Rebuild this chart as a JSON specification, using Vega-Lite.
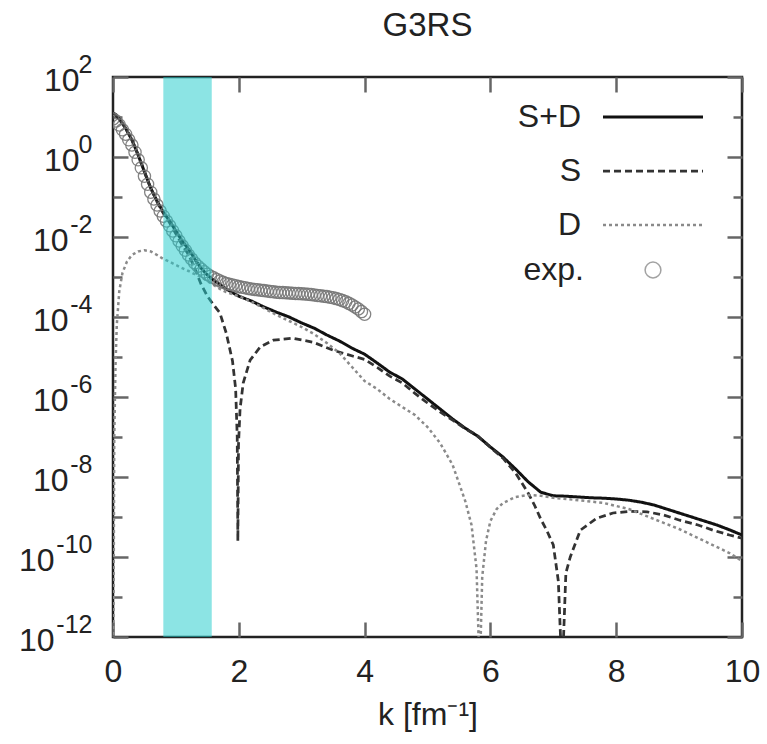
{
  "$schema": "https://vega.github.io/schema/vega-lite/v6.json",
  "width": 629,
  "height": 560,
  "autosize": "none",
  "padding": {"left": 113, "top": 77, "right": 25, "bottom": 107},
  "background": "white",
  "title": {"text": "G3RS", "fontSize": 33, "font": "Liberation Sans", "fontWeight": "normal", "color": "#222", "offset": 9, "anchor": "middle"},
  "config": {
    "view": {"stroke": "#222", "strokeWidth": 2.5},
    "axis": {"grid": false, "domain": false, "labelFont": "Liberation Sans", "labelFontSize": 32, "labelColor": "#222", "tickColor": "#666", "tickWidth": 2.5, "labelFlush": false, "labelOverlap": false, "titleFont": "Liberation Sans", "titleFontSize": 32, "titleFontWeight": "normal", "titleColor": "#222"},
    "legend": {"labelFont": "Liberation Sans", "labelFontSize": 32, "labelColor": "#222", "labelAlign": "right", "labelBaseline": "middle"}
  },
  "datasets": {
    "curves": [
      {"k": 0.0, "v": 12.59, "series": "S+D"}, {"k": 0.05, "v": 11.22, "series": "S+D"}, {"k": 0.1, "v": 8.913, "series": "S+D"}, {"k": 0.2, "v": 5.248, "series": "S+D"}, {"k": 0.3, "v": 2.692, "series": "S+D"}, {"k": 0.4, "v": 1.122, "series": "S+D"}, {"k": 0.5, "v": 0.4266, "series": "S+D"}, {"k": 0.6, "v": 0.166, "series": "S+D"}, {"k": 0.7, "v": 0.07943, "series": "S+D"}, {"k": 0.8, "v": 0.04169, "series": "S+D"}, {"k": 0.9, "v": 0.02512, "series": "S+D"}, {"k": 1.0, "v": 0.01413, "series": "S+D"}, {"k": 1.1, "v": 0.007943, "series": "S+D"}, {"k": 1.2, "v": 0.005012, "series": "S+D"}, {"k": 1.3, "v": 0.002818, "series": "S+D"}, {"k": 1.4, "v": 0.00166, "series": "S+D"}, {"k": 1.5, "v": 0.001122, "series": "S+D"}, {"k": 1.6, "v": 8.318e-4, "series": "S+D"}, {"k": 1.8, "v": 5.012e-4, "series": "S+D"}, {"k": 2.0, "v": 3.311e-4, "series": "S+D"}, {"k": 2.2, "v": 2.512e-4, "series": "S+D"}, {"k": 2.4, "v": 1.778e-4, "series": "S+D"}, {"k": 2.6, "v": 1.318e-4, "series": "S+D"}, {"k": 2.8, "v": 1.0e-4, "series": "S+D"}, {"k": 3.0, "v": 7.079e-5, "series": "S+D"}, {"k": 3.2, "v": 5.248e-5, "series": "S+D"}, {"k": 3.4, "v": 3.548e-5, "series": "S+D"}, {"k": 3.6, "v": 2.512e-5, "series": "S+D"}, {"k": 3.8, "v": 1.66e-5, "series": "S+D"}, {"k": 4.0, "v": 1.175e-5, "series": "S+D"}, {"k": 4.2, "v": 7.079e-6, "series": "S+D"}, {"k": 4.4, "v": 4.169e-6, "series": "S+D"}, {"k": 4.6, "v": 2.818e-6, "series": "S+D"}, {"k": 4.8, "v": 1.585e-6, "series": "S+D"}, {"k": 5.0, "v": 8.913e-7, "series": "S+D"}, {"k": 5.2, "v": 5.012e-7, "series": "S+D"}, {"k": 5.4, "v": 2.818e-7, "series": "S+D"}, {"k": 5.6, "v": 1.66e-7, "series": "S+D"}, {"k": 5.8, "v": 1.047e-7, "series": "S+D"}, {"k": 6.0, "v": 5.623e-8, "series": "S+D"}, {"k": 6.2, "v": 3.162e-8, "series": "S+D"}, {"k": 6.4, "v": 1.585e-8, "series": "S+D"}, {"k": 6.6, "v": 7.586e-9, "series": "S+D"}, {"k": 6.8, "v": 4.169e-9, "series": "S+D"}, {"k": 7.0, "v": 3.388e-9, "series": "S+D"}, {"k": 7.2, "v": 3.311e-9, "series": "S+D"}, {"k": 7.4, "v": 3.162e-9, "series": "S+D"}, {"k": 7.6, "v": 3.02e-9, "series": "S+D"}, {"k": 7.8, "v": 2.951e-9, "series": "S+D"}, {"k": 8.0, "v": 2.818e-9, "series": "S+D"}, {"k": 8.2, "v": 2.63e-9, "series": "S+D"}, {"k": 8.4, "v": 2.344e-9, "series": "S+D"}, {"k": 8.6, "v": 1.995e-9, "series": "S+D"}, {"k": 8.8, "v": 1.585e-9, "series": "S+D"}, {"k": 9.0, "v": 1.259e-9, "series": "S+D"}, {"k": 9.2, "v": 1.0e-9, "series": "S+D"}, {"k": 9.4, "v": 7.943e-10, "series": "S+D"}, {"k": 9.6, "v": 6.31e-10, "series": "S+D"}, {"k": 9.8, "v": 4.786e-10, "series": "S+D"}, {"k": 10.0, "v": 3.548e-10, "series": "S+D"},

      {"k": 0.0, "v": 12.59, "series": "S"}, {"k": 0.05, "v": 11.22, "series": "S"}, {"k": 0.1, "v": 8.913, "series": "S"}, {"k": 0.2, "v": 5.248, "series": "S"}, {"k": 0.3, "v": 2.692, "series": "S"}, {"k": 0.4, "v": 1.122, "series": "S"}, {"k": 0.5, "v": 0.4266, "series": "S"}, {"k": 0.6, "v": 0.166, "series": "S"}, {"k": 0.7, "v": 0.0759, "series": "S"}, {"k": 0.8, "v": 0.0389, "series": "S"}, {"k": 0.9, "v": 0.0227, "series": "S"}, {"k": 1.0, "v": 0.01202, "series": "S"}, {"k": 1.1, "v": 0.00631, "series": "S"}, {"k": 1.2, "v": 0.003631, "series": "S"}, {"k": 1.3, "v": 0.00166, "series": "S"}, {"k": 1.4, "v": 6.607e-4, "series": "S"}, {"k": 1.5, "v": 3.311e-4, "series": "S"}, {"k": 1.6, "v": 1.995e-4, "series": "S"}, {"k": 1.7, "v": 1.259e-4, "series": "S"}, {"k": 1.8, "v": 3.981e-5, "series": "S"}, {"k": 1.9, "v": 7.943e-6, "series": "S"}, {"k": 1.95, "v": 1.585e-6, "series": "S"}, {"k": 1.975, "v": 1.0e-7, "series": "S"}, {"k": 1.985, "v": 2.512e-10, "series": "S"}, {"k": 1.995, "v": 6.31e-8, "series": "S"}, {"k": 2.02, "v": 5.012e-7, "series": "S"}, {"k": 2.07, "v": 2.239e-6, "series": "S"}, {"k": 2.18, "v": 8.318e-6, "series": "S"}, {"k": 2.34, "v": 1.778e-5, "series": "S"}, {"k": 2.55, "v": 2.63e-5, "series": "S"}, {"k": 2.86, "v": 2.951e-5, "series": "S"}, {"k": 3.18, "v": 2.344e-5, "series": "S"}, {"k": 3.5, "v": 1.479e-5, "series": "S"}, {"k": 3.82, "v": 1.047e-5, "series": "S"}, {"k": 4.0, "v": 8.71e-6, "series": "S"}, {"k": 4.2, "v": 5.495e-6, "series": "S"}, {"k": 4.4, "v": 3.311e-6, "series": "S"}, {"k": 4.6, "v": 2.239e-6, "series": "S"}, {"k": 4.8, "v": 1.23e-6, "series": "S"}, {"k": 5.0, "v": 7.079e-7, "series": "S"}, {"k": 5.2, "v": 4.266e-7, "series": "S"}, {"k": 5.4, "v": 2.63e-7, "series": "S"}, {"k": 5.6, "v": 1.622e-7, "series": "S"}, {"k": 5.8, "v": 1.047e-7, "series": "S"}, {"k": 6.0, "v": 5.495e-8, "series": "S"}, {"k": 6.2, "v": 2.951e-8, "series": "S"}, {"k": 6.4, "v": 1.259e-8, "series": "S"}, {"k": 6.6, "v": 3.981e-9, "series": "S"}, {"k": 6.7, "v": 1.995e-9, "series": "S"}, {"k": 6.8, "v": 8.913e-10, "series": "S"}, {"k": 6.9, "v": 4.467e-10, "series": "S"}, {"k": 7.0, "v": 1.995e-10, "series": "S"}, {"k": 7.08, "v": 2.512e-11, "series": "S"}, {"k": 7.14, "v": 1.0e-13, "series": "S"}, {"k": 7.2, "v": 3.981e-11, "series": "S"}, {"k": 7.27, "v": 1.0e-10, "series": "S"}, {"k": 7.43, "v": 4.677e-10, "series": "S"}, {"k": 7.69, "v": 9.333e-10, "series": "S"}, {"k": 7.95, "v": 1.259e-9, "series": "S"}, {"k": 8.2, "v": 1.38e-9, "series": "S"}, {"k": 8.49, "v": 1.349e-9, "series": "S"}, {"k": 8.75, "v": 1.122e-9, "series": "S"}, {"k": 9.01, "v": 8.318e-10, "series": "S"}, {"k": 9.3, "v": 6.31e-10, "series": "S"}, {"k": 9.54, "v": 4.677e-10, "series": "S"}, {"k": 9.8, "v": 3.548e-10, "series": "S"}, {"k": 10.0, "v": 2.951e-10, "series": "S"},

      {"k": 0.005, "v": 1.0e-13, "series": "D"}, {"k": 0.02, "v": 1.0e-7, "series": "D"}, {"k": 0.04, "v": 6.31e-6, "series": "D"}, {"k": 0.06, "v": 6.31e-5, "series": "D"}, {"k": 0.1, "v": 4.467e-4, "series": "D"}, {"k": 0.15, "v": 0.001259, "series": "D"}, {"k": 0.22, "v": 0.002399, "series": "D"}, {"k": 0.3, "v": 0.003548, "series": "D"}, {"k": 0.4, "v": 0.004365, "series": "D"}, {"k": 0.5, "v": 0.004677, "series": "D"}, {"k": 0.6, "v": 0.004365, "series": "D"}, {"k": 0.7, "v": 0.003548, "series": "D"}, {"k": 0.8, "v": 0.002818, "series": "D"}, {"k": 0.9, "v": 0.002399, "series": "D"}, {"k": 1.0, "v": 0.001995, "series": "D"}, {"k": 1.1, "v": 0.00166, "series": "D"}, {"k": 1.2, "v": 0.001413, "series": "D"}, {"k": 1.3, "v": 0.001175, "series": "D"}, {"k": 1.4, "v": 0.001, "series": "D"}, {"k": 1.5, "v": 7.943e-4, "series": "D"}, {"k": 1.6, "v": 6.31e-4, "series": "D"}, {"k": 1.7, "v": 5.012e-4, "series": "D"}, {"k": 1.8, "v": 4.169e-4, "series": "D"}, {"k": 1.9, "v": 3.715e-4, "series": "D"}, {"k": 2.0, "v": 3.311e-4, "series": "D"}, {"k": 2.2, "v": 2.399e-4, "series": "D"}, {"k": 2.4, "v": 1.66e-4, "series": "D"}, {"k": 2.6, "v": 1.122e-4, "series": "D"}, {"k": 2.8, "v": 7.943e-5, "series": "D"}, {"k": 3.0, "v": 5.623e-5, "series": "D"}, {"k": 3.2, "v": 3.715e-5, "series": "D"}, {"k": 3.4, "v": 2.239e-5, "series": "D"}, {"k": 3.6, "v": 1.259e-5, "series": "D"}, {"k": 3.8, "v": 5.623e-6, "series": "D"}, {"k": 4.0, "v": 2.512e-6, "series": "D"}, {"k": 4.2, "v": 1.585e-6, "series": "D"}, {"k": 4.4, "v": 8.913e-7, "series": "D"}, {"k": 4.6, "v": 5.623e-7, "series": "D"}, {"k": 4.8, "v": 3.548e-7, "series": "D"}, {"k": 5.0, "v": 1.778e-7, "series": "D"}, {"k": 5.2, "v": 7.079e-8, "series": "D"}, {"k": 5.4, "v": 1.995e-8, "series": "D"}, {"k": 5.6, "v": 2.512e-9, "series": "D"}, {"k": 5.7, "v": 6.31e-10, "series": "D"}, {"k": 5.78, "v": 5.012e-11, "series": "D"}, {"k": 5.83, "v": 1.0e-13, "series": "D"}, {"k": 5.87, "v": 3.162e-11, "series": "D"}, {"k": 5.93, "v": 2.512e-10, "series": "D"}, {"k": 6.0, "v": 7.943e-10, "series": "D"}, {"k": 6.1, "v": 1.585e-9, "series": "D"}, {"k": 6.2, "v": 2.239e-9, "series": "D"}, {"k": 6.4, "v": 3.162e-9, "series": "D"}, {"k": 6.6, "v": 3.548e-9, "series": "D"}, {"k": 6.8, "v": 3.388e-9, "series": "D"}, {"k": 7.0, "v": 3.02e-9, "series": "D"}, {"k": 7.4, "v": 2.63e-9, "series": "D"}, {"k": 7.8, "v": 2.239e-9, "series": "D"}, {"k": 8.2, "v": 1.585e-9, "series": "D"}, {"k": 8.6, "v": 8.913e-10, "series": "D"}, {"k": 9.0, "v": 5.012e-10, "series": "D"}, {"k": 9.4, "v": 2.512e-10, "series": "D"}, {"k": 9.8, "v": 1.259e-10, "series": "D"}, {"k": 10.0, "v": 7.943e-11, "series": "D"}
    ],
    "exp": [
      {"k": 0.0, "v": 8.913, "src": "exp."}, {"k": 0.05, "v": 7.943, "src": "exp."}, {"k": 0.1, "v": 6.31, "src": "exp."}, {"k": 0.15, "v": 4.786, "src": "exp."}, {"k": 0.2, "v": 3.715, "src": "exp."}, {"k": 0.25, "v": 2.692, "src": "exp."}, {"k": 0.3, "v": 1.995, "src": "exp."}, {"k": 0.35, "v": 1.318, "src": "exp."}, {"k": 0.4, "v": 0.8511, "src": "exp."}, {"k": 0.45, "v": 0.537, "src": "exp."}, {"k": 0.5, "v": 0.3311, "src": "exp."}, {"k": 0.55, "v": 0.2089, "src": "exp."}, {"k": 0.6, "v": 0.1318, "src": "exp."}, {"k": 0.65, "v": 0.08913, "src": "exp."}, {"k": 0.7, "v": 0.0631, "src": "exp."}, {"k": 0.75, "v": 0.04467, "src": "exp."}, {"k": 0.8, "v": 0.03311, "src": "exp."}, {"k": 0.85, "v": 0.02512, "src": "exp."}, {"k": 0.9, "v": 0.01905, "src": "exp."}, {"k": 0.95, "v": 0.01413, "src": "exp."}, {"k": 1.0, "v": 0.01072, "src": "exp."}, {"k": 1.05, "v": 0.007943, "src": "exp."}, {"k": 1.1, "v": 0.006026, "src": "exp."}, {"k": 1.15, "v": 0.004677, "src": "exp."}, {"k": 1.2, "v": 0.003548, "src": "exp."}, {"k": 1.25, "v": 0.002818, "src": "exp."}, {"k": 1.3, "v": 0.002239, "src": "exp."}, {"k": 1.35, "v": 0.001862, "src": "exp."}, {"k": 1.4, "v": 0.001585, "src": "exp."}, {"k": 1.45, "v": 0.001349, "src": "exp."}, {"k": 1.5, "v": 0.001175, "src": "exp."}, {"k": 1.55, "v": 0.001047, "src": "exp."}, {"k": 1.6, "v": 9.55e-4, "src": "exp."}, {"k": 1.65, "v": 8.71e-4, "src": "exp."}, {"k": 1.7, "v": 7.943e-4, "src": "exp."}, {"k": 1.75, "v": 7.413e-4, "src": "exp."}, {"k": 1.8, "v": 6.918e-4, "src": "exp."}, {"k": 1.85, "v": 6.607e-4, "src": "exp."}, {"k": 1.9, "v": 6.31e-4, "src": "exp."}, {"k": 1.95, "v": 6.026e-4, "src": "exp."}, {"k": 2.0, "v": 5.754e-4, "src": "exp."}, {"k": 2.05, "v": 5.559e-4, "src": "exp."}, {"k": 2.1, "v": 5.37e-4, "src": "exp."}, {"k": 2.15, "v": 5.188e-4, "src": "exp."}, {"k": 2.2, "v": 5.012e-4, "src": "exp."}, {"k": 2.25, "v": 4.898e-4, "src": "exp."}, {"k": 2.3, "v": 4.786e-4, "src": "exp."}, {"k": 2.35, "v": 4.677e-4, "src": "exp."}, {"k": 2.4, "v": 4.571e-4, "src": "exp."}, {"k": 2.45, "v": 4.467e-4, "src": "exp."}, {"k": 2.5, "v": 4.365e-4, "src": "exp."}, {"k": 2.55, "v": 4.266e-4, "src": "exp."}, {"k": 2.6, "v": 4.169e-4, "src": "exp."}, {"k": 2.65, "v": 4.121e-4, "src": "exp."}, {"k": 2.7, "v": 4.074e-4, "src": "exp."}, {"k": 2.75, "v": 4.027e-4, "src": "exp."}, {"k": 2.8, "v": 3.981e-4, "src": "exp."}, {"k": 2.85, "v": 3.936e-4, "src": "exp."}, {"k": 2.9, "v": 3.89e-4, "src": "exp."}, {"k": 2.95, "v": 3.846e-4, "src": "exp."}, {"k": 3.0, "v": 3.802e-4, "src": "exp."}, {"k": 3.05, "v": 3.758e-4, "src": "exp."}, {"k": 3.1, "v": 3.715e-4, "src": "exp."}, {"k": 3.15, "v": 3.631e-4, "src": "exp."}, {"k": 3.2, "v": 3.548e-4, "src": "exp."}, {"k": 3.25, "v": 3.467e-4, "src": "exp."}, {"k": 3.3, "v": 3.388e-4, "src": "exp."}, {"k": 3.35, "v": 3.311e-4, "src": "exp."}, {"k": 3.4, "v": 3.236e-4, "src": "exp."}, {"k": 3.45, "v": 3.126e-4, "src": "exp."}, {"k": 3.5, "v": 3.02e-4, "src": "exp."}, {"k": 3.55, "v": 2.884e-4, "src": "exp."}, {"k": 3.6, "v": 2.754e-4, "src": "exp."}, {"k": 3.65, "v": 2.57e-4, "src": "exp."}, {"k": 3.7, "v": 2.399e-4, "src": "exp."}, {"k": 3.75, "v": 2.188e-4, "src": "exp."}, {"k": 3.8, "v": 1.995e-4, "src": "exp."}, {"k": 3.85, "v": 1.778e-4, "src": "exp."}, {"k": 3.9, "v": 1.585e-4, "src": "exp."}, {"k": 3.95, "v": 1.365e-4, "src": "exp."}, {"k": 4.0, "v": 1.175e-4, "src": "exp."}
    ],
    "band": [{"k0": 0.8, "k1": 1.57, "lo": 1e-12, "hi": 100}]
  },
  "layer": [
    {
      "data": {"name": "curves"},
      "mark": {"type": "line", "clip": true},
      "encoding": {
        "x": {"field": "k", "type": "quantitative", "scale": {"domain": [0, 10], "nice": false},
          "axis": {"orient": "bottom", "values": [0, 2, 4, 6, 8, 10], "tickSize": -15, "labelPadding": 34, "title": "k [fm⁻¹]", "titlePadding": 12}},
        "y": {"field": "v", "type": "quantitative", "scale": {"type": "log", "domain": [1e-12, 100], "nice": false},
          "axis": {"orient": "left", "title": null, "values": [100, 10, 1, 0.1, 0.01, 0.001, 1e-4, 1e-5, 1e-6, 1e-7, 1e-8, 1e-9, 1e-10, 1e-11, 1e-12],
            "labelExpr": "round(log(datum.value)/LN10) % 2 == 0 ? '10' : ''",
            "tickSize": {"condition": {"test": "round(log(datum.value)/LN10) % 2 == 0", "value": -15}, "value": -9},
            "labelPadding": {"condition": [{"test": "round(log(datum.value)/LN10) >= 0", "value": 49}, {"test": "round(log(datum.value)/LN10) >= -8", "value": 60}], "value": 74},
            "labelAlign": "right", "labelBaseline": "middle", "labelOffset": 3}},
        "color": {"field": "series", "type": "nominal", "scale": {"domain": ["S+D", "S", "D"], "range": ["#111111", "#333333", "#8a8a8a"]},
          "legend": {"orient": "none", "legendX": 524, "legendY": 24, "title": null, "symbolType": "M-5,0H5", "symbolSize": 400, "symbolStrokeWidth": 2.5, "rowPadding": 22, "labelOffset": -88}},
        "strokeDash": {"field": "series", "type": "nominal", "scale": {"domain": ["S+D", "S", "D"], "range": [[1, 0], [7, 4], [3, 3]]},
          "legend": {"orient": "none", "legendX": 524, "legendY": 24, "title": null, "symbolType": "M-5,0H5", "symbolSize": 400, "symbolStrokeWidth": 2.5, "rowPadding": 22, "labelOffset": -88}},
        "strokeWidth": {"field": "series", "type": "nominal", "scale": {"domain": ["S+D", "S", "D"], "range": [3, 2.5, 2]}, "legend": null}
      }
    },
    {
      "data": {"name": "exp"},
      "mark": {"type": "point", "filled": false, "strokeWidth": 1.3, "size": 150, "color": "#777777", "opacity": 0.9, "clip": true},
      "encoding": {
        "x": {"field": "k", "type": "quantitative", "scale": {"domain": [0, 10], "nice": false},
          "axis": {"orient": "top", "values": [0, 2, 4, 6, 8, 10], "tickSize": -15, "labels": false, "title": null}},
        "y": {"field": "v", "type": "quantitative", "scale": {"type": "log", "domain": [1e-12, 100], "nice": false},
          "axis": {"orient": "left", "title": null, "ticks": false, "values": [100, 1, 0.01, 1e-4, 1e-6, 1e-8, 1e-10, 1e-12],
            "labelExpr": "'' + round(log(datum.value)/LN10)", "labelFontSize": 25, "labelPadding": 21, "labelAlign": "right", "labelBaseline": "middle", "labelOffset": -13}},
        "shape": {"field": "src", "type": "nominal", "scale": {"domain": ["exp."], "range": ["circle"]},
          "legend": {"orient": "none", "legendX": 524, "legendY": 177, "title": null, "symbolSize": 250, "symbolStrokeColor": "#999999", "symbolFillColor": "transparent", "symbolStrokeWidth": 1.5, "labelOffset": -85}}
      }
    },
    {
      "data": {"name": "band"},
      "mark": {"type": "rect", "fill": "#22cccc", "opacity": 0.52},
      "encoding": {
        "x": {"field": "k0", "type": "quantitative", "scale": {"domain": [0, 10], "nice": false}, "axis": null},
        "x2": {"field": "k1"},
        "y": {"field": "lo", "type": "quantitative", "scale": {"type": "log", "domain": [1e-12, 100], "nice": false},
          "axis": {"orient": "right", "title": null, "labels": false, "values": [100, 10, 1, 0.1, 0.01, 0.001, 1e-4, 1e-5, 1e-6, 1e-7, 1e-8, 1e-9, 1e-10, 1e-11, 1e-12],
            "tickSize": {"condition": {"test": "round(log(datum.value)/LN10) % 2 == 0", "value": -15}, "value": -9}}},
        "y2": {"field": "hi"}
      }
    }
  ],
  "resolve": {"axis": {"x": "independent", "y": "independent"}}
}
